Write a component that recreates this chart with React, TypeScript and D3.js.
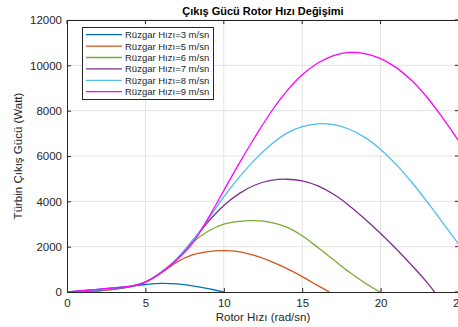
import * as d3 from "d3";
import React, { useRef, useEffect } from "react";

// rotor speed samples (rad/sn)
const omega = [0, 1, 2, 3, 4, 5, 6, 7, 8, 9, 10, 11, 12, 13, 14, 15, 16, 17, 18, 19, 20, 21, 22, 23, 24, 25];

// turbine output power (Watt), one list per wind speed
const p3 = [0, 60, 120, 180, 250, 330, 380, 355, 270, 150];
const p5 = [0, 10, 45, 115, 235, 440, 830, 1320, 1640, 1785, 1822, 1770, 1600, 1350, 1040, 680, 280];
const p6 = [0, 12, 55, 125, 240, 440, 860, 1440, 2180, 2680, 2990, 3120, 3146, 3070, 2860, 2480, 1960, 1420, 880, 400];
const p7 = [0, 20, 70, 140, 240, 440, 870, 1450, 2260, 3100, 3820, 4350, 4720, 4920, 4975, 4900, 4680, 4310, 3810, 3220, 2580, 1900, 1170, 390];
const p8 = [0, 40, 95, 165, 245, 440, 870, 1450, 2260, 3200, 4200, 5080, 5850, 6500, 7000, 7300, 7420, 7380, 7180, 6820, 6290, 5620, 4830, 3950, 3020, 2090];
const p9 = [0, 55, 115, 180, 250, 440, 850, 1420, 2150, 3250, 4480, 5700, 6850, 7930, 8850, 9580, 10100, 10430, 10570, 10520, 10300, 9900, 9320, 8560, 7640, 6650];

// rotor speed where a curve comes back to zero (null = beyond the axis)
const zeroAt = [10, 16.74, 19.97, 23.44, null, null];

const seriesValues = [p3, p5, p6, p7, p8, p9];
const legendLabels = [
  "Rüzgar Hızı=3 m/sn",
  "Rüzgar Hızı=5 m/sn",
  "Rüzgar Hızı=6 m/sn",
  "Rüzgar Hızı=7 m/sn",
  "Rüzgar Hızı=8 m/sn",
  "Rüzgar Hızı=9 m/sn",
];
const colors = ["#0072BD", "#D95319", "#77AC30", "#7E2F8E", "#4DBEEE", "#FF00FF"];

const xTicks = [0, 5, 10, 15, 20, 25];
const yTicks = [0, 2000, 4000, 6000, 8000, 10000, 12000];

const W = 458, H = 327;
const m = { l: 67, r: 459, t: 20, b: 292 };
const font = "'Liberation Sans', Arial, Helvetica, sans-serif";
const axisColor = "#262626";

const App: React.FC = () => {
  const gx = useRef<SVGGElement>(null);
  const gy = useRef<SVGGElement>(null);

  const x = d3.scaleLinear([0, 25], [m.l, m.r]);
  const y = d3.scaleLinear([0, 12000], [m.b, m.t]);

  useEffect(() => {
    if (gx.current) {
      const g = d3.select(gx.current);
      g.call(d3.axisBottom(x).tickValues(xTicks).tickSizeInner(-4).tickSizeOuter(0).tickPadding(7).tickFormat(d3.format("d")));
      g.select(".domain").attr("stroke", axisColor);
      g.selectAll(".tick line").attr("stroke", axisColor);
      g.selectAll(".tick text").attr("fill", axisColor).attr("font-size", 11.5).attr("font-family", font);
    }
    if (gy.current) {
      const g = d3.select(gy.current);
      g.call(d3.axisLeft(y).tickValues(yTicks).tickSizeInner(-4).tickSizeOuter(0).tickPadding(5).tickFormat(d3.format("d")));
      g.select(".domain").attr("stroke", axisColor);
      g.selectAll(".tick line").attr("stroke", axisColor);
      g.selectAll(".tick text").attr("fill", axisColor).attr("font-size", 11.5).attr("font-family", font);
    }
  }, []);

  const line = d3.line<[number, number]>()
    .x(d => x(d[0]))
    .y(d => y(d[1]))
    .curve(d3.curveCatmullRom.alpha(0.5));

  const seriesPoints = seriesValues.map((vals, i) => {
    const pts: [number, number][] = vals.map((v, j) => [omega[j], v]);
    const z = zeroAt[i];
    if (z !== null) pts.push([z, 0]);
    return pts;
  });

  const legX = 82, legY = 27, legW = 131, legH = 72, rowH = 11.4;

  return (
    <svg width={W} height={H} style={{ position: "absolute", left: 0, top: 0, background: "#fff" }}>
      <defs>
        <clipPath id="plotArea">
          <rect x={m.l} y={m.t} width={m.r - m.l} height={m.b - m.t} />
        </clipPath>
      </defs>
      <rect x={0} y={0} width={W} height={H} fill="#fff" />
      {/* grid */}
      {xTicks.slice(1).map(t => (
        <line key={"gx" + t} x1={x(t)} x2={x(t)} y1={m.t} y2={m.b} stroke="#e3e3e3" strokeWidth={1} />
      ))}
      {yTicks.slice(1).map(t => (
        <line key={"gy" + t} x1={m.l} x2={m.r} y1={y(t)} y2={y(t)} stroke="#e3e3e3" strokeWidth={1} />
      ))}
      {/* curves */}
      <g clipPath="url(#plotArea)">
        {seriesPoints.map((pts, i) => (
          <path key={legendLabels[i]} d={line(pts) || ""} fill="none" stroke={colors[i]} strokeWidth={1.3} />
        ))}
      </g>
      {/* box: top and right with inward ticks */}
      <line x1={m.l} x2={m.r} y1={m.t + 0.5} y2={m.t + 0.5} stroke={axisColor} />
      <line x1={m.r - 0.5} x2={m.r - 0.5} y1={m.t} y2={m.b} stroke={axisColor} />
      {xTicks.map(t => (
        <line key={"tt" + t} x1={x(t)} x2={x(t)} y1={m.t} y2={m.t + 4} stroke={axisColor} />
      ))}
      {yTicks.map(t => (
        <line key={"tr" + t} x1={m.r - 4} x2={m.r} y1={y(t)} y2={y(t)} stroke={axisColor} />
      ))}
      <g ref={gx} transform={`translate(0, ${m.b})`} />
      <g ref={gy} transform={`translate(${m.l}, 0)`} />
      {/* legend */}
      <rect x={legX + 0.5} y={legY + 0.5} width={legW} height={legH} fill="#fff" stroke={axisColor} strokeWidth={1} />
      {legendLabels.map((lab, i) => {
        const cy = legY + 7.7 + i * rowH;
        return (
          <g key={"leg" + i}>
            <line x1={legX + 4} x2={legX + 40} y1={cy} y2={cy} stroke={colors[i]} strokeWidth={1.3} />
            <text x={legX + 43} y={cy + 3.4} fontSize={9.5} fontFamily={font} fill={axisColor}>{lab}</text>
          </g>
        );
      })}
      {/* titles */}
      <text x={(m.l + m.r) / 2} y={14.5} textAnchor="middle" fontSize={11} fontWeight="bold" fontFamily={font} fill="#000">
        Çıkış Gücü Rotor Hızı Değişimi
      </text>
      <text x={(m.l + m.r) / 2} y={321} textAnchor="middle" fontSize={11.5} fontFamily={font} fill={axisColor}>
        Rotor Hızı (rad/sn)
      </text>
      <text transform={`translate(22, ${(m.t + m.b) / 2}) rotate(-90)`} textAnchor="middle" fontSize={11.5} fontFamily={font} fill={axisColor}>
        Türbin Çıkış Gücü (Watt)
      </text>
    </svg>
  );
};

export default App;
